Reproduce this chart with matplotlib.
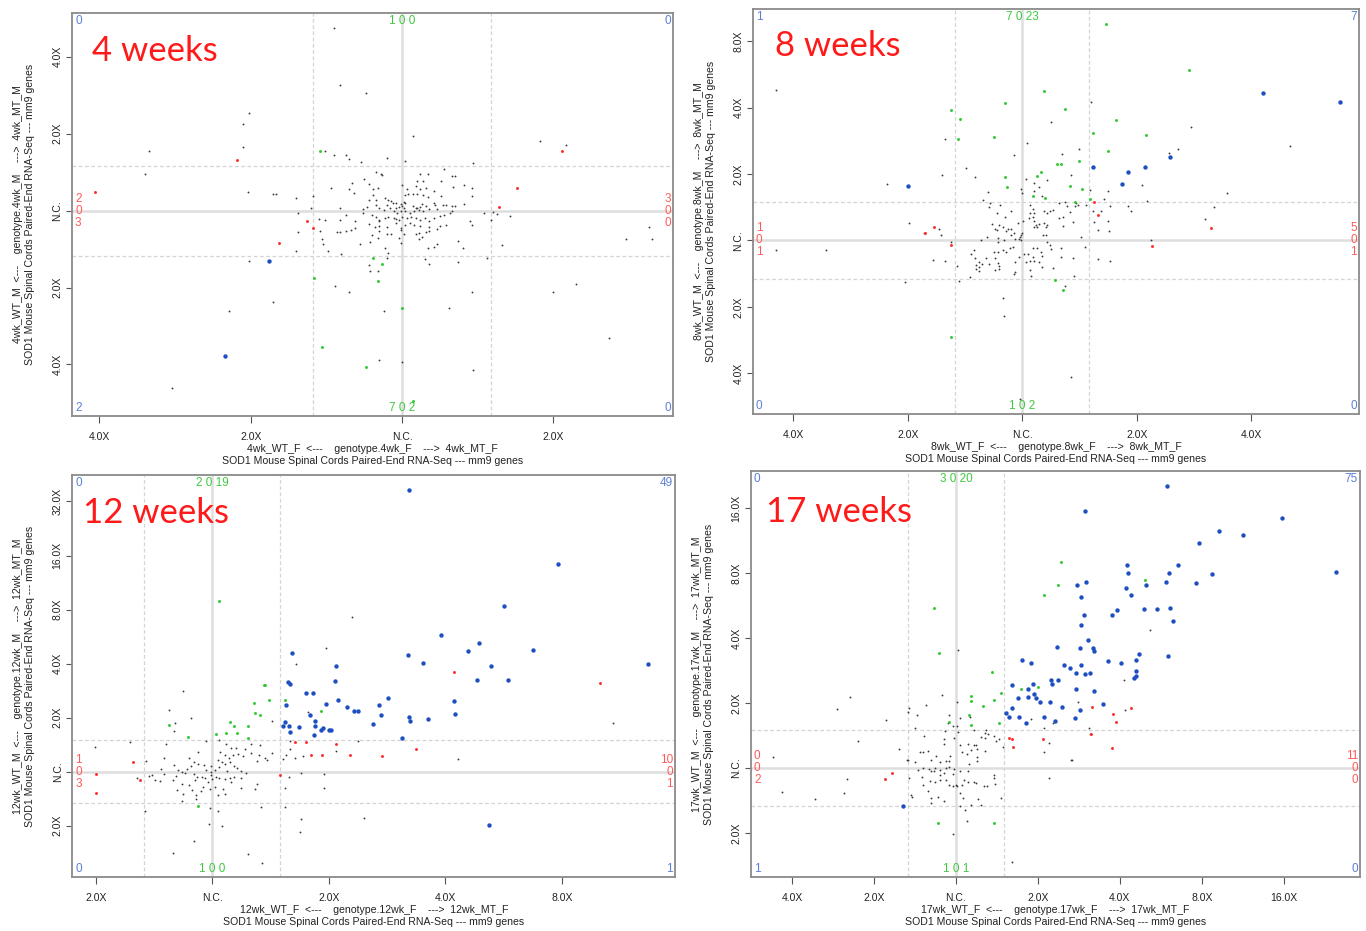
import matplotlib
matplotlib.use("Agg")
import matplotlib.pyplot as plt

plt.rcParams['font.family'] = ['Liberation Sans', 'DejaVu Sans']

# ---------------- DATA (log2 fold changes: x = female MT/WT, y = male MT/WT) ----------------
panel_titles = ["4 weeks", "8 weeks", "12 weeks", "17 weeks"]
prefixes = ["4wk", "8wk", "12wk", "17wk"]

# ---- 4 weeks ----
wk4_black = [
(-0.51,0.78),(-0.45,0.73),(-0.37,0.73),(-0.35,0.67),(-0.27,0.63),(-0.10,0.68),(0.02,0.64),(0.47,0.62),
(-0.17,0.50),(-0.14,0.48),(-0.13,0.46),(0.12,0.48),(0.17,0.48),(0.28,0.54),(0.33,0.45),(0.35,0.45),
(-0.25,0.41),(-0.33,0.36),(-0.22,0.35),(-0.47,0.29),(-0.35,0.28),(-0.32,0.23),(-0.19,0.28),(-0.16,0.29),
(0.10,0.39),(0.14,0.38),(0.09,0.32),(0.12,0.28),(0.16,0.30),(0.21,0.26),(0.26,0.39),(0.41,0.34),(0.34,0.31),(0.46,0.30),
(0.00,0.34),(0.03,0.28),(0.07,0.22),(0.04,0.22),(0.02,0.20),(0.10,0.22),(0.14,0.20),(0.17,0.18),(0.26,0.19),
(-0.19,0.21),(-0.22,0.14),(-0.17,0.14),(-0.11,0.16),(-0.09,0.14),(-0.07,0.12),(-0.06,0.10),(-0.04,0.10),(-0.01,0.09),(0.01,0.11),(0.02,0.10),
(-0.10,0.07),(-0.08,0.04),(-0.04,0.03),(-0.02,0.05),(0.00,0.06),(0.01,0.03),(0.07,0.06),(0.09,0.03),(0.10,0.03),(0.12,0.05),(0.13,0.09),(0.16,0.06),(0.21,0.10),(0.22,0.07),(0.27,0.08),(0.29,0.07),(0.33,-0.01),(0.33,0.06),(0.35,0.06),(0.41,0.09),(0.46,0.19),
(-0.26,0.02),(-0.23,0.05),(-0.17,0.07),(-0.15,0.03),(-0.12,0.01),(-0.05,-0.01),(-0.03,-0.03),(-0.01,0.00),(0.02,-0.01),(0.05,-0.03),(0.08,0.00),(0.11,0.01),(0.14,-0.01),(0.18,0.02),(0.23,0.02),
(-0.26,-0.03),(-0.20,-0.06),(-0.17,-0.08),(-0.15,-0.12),(-0.15,-0.14),(-0.11,-0.09),(-0.09,-0.08),(-0.05,-0.10),(-0.04,-0.11),(-0.02,-0.12),(0.00,-0.08),(0.03,-0.10),(0.06,-0.08),(0.09,-0.09),(0.12,-0.12),(0.15,-0.10),(0.18,-0.13),(0.21,-0.10),(0.25,-0.07),(0.28,-0.05),(0.32,-0.03),
(0.54,-0.03),(0.60,-0.02),(0.63,-0.04),(0.71,-0.07),(0.59,-0.12),(-0.69,-0.03),(-0.60,0.03),(-0.70,0.16),(-0.59,0.19),(-0.41,0.04),
(-0.69,-0.28),(-0.55,-0.11),(-0.51,-0.12),(-0.41,-0.12),(-0.37,-0.06),(-0.31,-0.13),(-0.54,-0.26),(-0.43,-0.28),(-0.41,-0.28),(-0.37,-0.26),(-0.34,-0.25),(-0.31,-0.23),
(-0.22,-0.17),(-0.18,-0.21),(-0.15,-0.20),(-0.10,-0.21),(-0.04,-0.16),(-0.01,-0.22),(0.02,-0.19),(0.05,-0.16),(0.08,-0.19),(0.12,-0.20),(0.18,-0.21),(0.25,-0.20),(0.29,-0.19),(0.45,-0.13),(0.46,-0.19),
(-0.15,-0.26),(-0.10,-0.30),(-0.01,-0.25),(0.01,-0.31),(-0.02,-0.35),(0.09,-0.30),(0.11,-0.29),(0.13,-0.34),(0.16,-0.28),(0.18,-0.26),(0.23,-0.24),(-0.20,-0.32),(-0.16,-0.35),(-0.07,-0.30),
(-0.53,-0.37),(-0.52,-0.44),(-0.49,-0.53),(-0.40,-0.56),(-0.28,-0.43),(-0.21,-0.41),(-0.11,-0.48),(-0.09,-0.55),(-0.01,-0.42),(0.11,-0.37),(0.17,-0.49),(0.21,-0.47),(0.23,-0.43),(0.37,-0.40),(0.40,-0.48),(0.66,-0.45),(0.56,-0.61),(-0.70,-0.53),
(0.15,-0.63),(0.18,-0.70),(0.37,-0.67),(-0.22,-0.71),(-0.21,-0.78),(-0.16,-0.78),(-0.10,-0.62),(-0.44,-0.98),(-0.35,-1.06),(0.46,-1.06),
(-0.45,2.37),(-0.41,1.64),(-0.24,1.53),(-1.01,1.27),(-1.05,1.13),(-1.05,0.83),(-1.67,0.77),(-1.70,0.48),(0.07,0.97),(0.91,0.90),(1.08,0.86),
(-1.02,0.24),(-0.85,0.22),(-0.83,0.22),(1.63,-0.21),(1.65,-0.37),(1.48,-0.37),(-1.01,-0.66),(-0.85,-1.19),(-1.14,-1.30),(-0.12,-1.31),(0.31,-1.26),
(1.00,-1.06),(1.15,-0.95),(1.37,-1.65),(-0.15,-1.94),(0.00,-1.97),(0.47,-2.07),(-1.52,-2.30)]
wk4_blue = [(-0.88,-0.66),(-1.17,-1.89)]
wk4_red = [(1.06,0.78),(-1.09,0.66),(-2.03,0.24),(-0.63,-0.14),(-0.59,-0.23),(0.64,0.05),(0.76,0.30),(-0.81,-0.42)]
wk4_green = [(-0.54,0.77),(-0.13,-0.70),(-0.19,-0.61),(-0.58,-0.87),(-0.16,-0.91),(-0.53,-1.77),(-0.24,-2.03),(0.00,-1.27),(0.07,-2.48)]

# ---- 8 weeks ----
wk8_black = [
(0.04,1.47),(0.50,1.37),(0.35,1.30),(-0.07,1.28),(-0.49,1.09),(-0.70,0.99),(-0.41,0.96),(0.43,0.98),(0.03,0.92),(0.10,0.87),(0.22,0.91),(0.15,0.81),
(-0.01,0.78),(0.00,0.71),(0.10,0.74),(0.17,0.67),(-0.30,0.73),(-0.34,0.61),(-0.28,0.57),(-0.29,0.51),(-0.19,0.54),(-0.10,0.45),(-0.15,0.35),(-0.22,0.41),
(-0.26,0.25),(-0.20,0.24),(-0.24,0.18),(-0.17,0.21),(-0.22,0.16),(-0.14,0.15),(-0.12,0.17),(-0.10,0.18),(-0.07,0.12),(-0.10,0.09),(-0.04,0.26),(0.01,0.30),
(0.06,0.34),(0.07,0.41),(0.09,0.36),(0.10,0.29),(0.12,0.23),(0.13,0.21),(0.15,0.25),(0.10,0.20),(0.19,0.27),(0.21,0.20),(0.22,0.23),(0.07,0.54),(0.09,0.47),
(0.10,0.42),(0.19,0.45),(0.22,0.41),(0.24,0.44),(0.27,0.46),(0.32,0.34),(0.36,0.35),(0.36,0.22),(0.32,0.57),(0.37,0.58),(0.39,0.52),(0.42,0.43),(0.46,0.52),
(0.47,0.57),(0.49,0.54),(0.44,0.28),(0.51,0.05),(0.18,0.09),(0.21,0.08),(0.22,-0.03),(0.24,-0.07),(0.09,-0.11),(0.13,-0.12),(0.34,-0.11),(0.25,-0.13),
(0.16,-0.17),(0.17,-0.24),(0.05,-0.20),(0.02,-0.20),(-0.03,-0.25),(-0.02,0.05),(-0.03,0.03),(-0.01,0.01),(-0.01,0.08),(-0.06,0.02),(0.00,0.12),(-0.08,-0.10),
(-0.11,-0.11),(-0.14,-0.17),(-0.17,-0.15),(-0.21,-0.18),(-0.25,-0.17),(-0.21,-0.02),(-0.21,0.04),(-0.16,0.01),(-0.36,0.01),(-0.31,0.05),(-0.42,-0.15),
(-0.45,-0.20),(-0.41,-0.27),(-0.38,-0.32),(-0.35,-0.35),(-0.40,-0.37),(-0.38,-0.40),(-0.40,-0.43),(-0.38,-0.46),(-0.29,-0.36),(-0.24,-0.26),(-0.21,-0.34),
(-0.20,-0.39),(-0.20,-0.43),(-0.24,-0.45),(-0.06,-0.32),(-0.06,-0.47),(-0.07,-0.50),(0.03,-0.32),(0.07,-0.31),(0.09,-0.25),(0.10,-0.31),(0.15,-0.32),
(0.17,-0.40),(0.07,-0.45),(0.08,-0.54),(0.27,-0.42),(0.34,-0.25),(0.44,-0.27),(0.55,-0.10),(0.66,-0.28),(0.77,-0.31),(0.63,0.28),(0.62,0.44),(0.69,0.45),
(0.75,0.29),(0.77,0.52),(0.71,0.62),(0.75,0.74),(0.59,0.76),(0.66,0.16),(0.76,0.14),(0.56,0.53),(0.45,-0.54),(0.37,-0.68),(-0.17,-0.87),(-0.16,-1.14),
(-0.46,-0.55),(-0.55,-0.61),(-0.57,-0.38),(-0.67,-0.31),(-0.78,-0.30),(-1.02,-0.62),(-0.99,0.26),(-0.86,0.11),(-0.73,0.17),(-0.71,0.09),(-0.62,-0.03),(-0.32,-0.27),
(-2.15,2.26),(-2.15,-0.14),(-1.71,-0.14),(-1.18,0.85),(-0.67,1.52),(0.43,-2.06),(-0.02,-2.39),(0.92,0.52),(1.05,0.84),(1.09,0.60),(0.95,0.45),(1.12,0.00),
(1.60,0.33),(1.67,0.51),(1.79,0.71),(1.47,1.71),(2.34,1.42),(1.28,1.32),(1.36,1.37),(0.60,2.09),(0.25,1.78)]
wk8_blue = [(-1.00,0.82),(0.62,1.11),(0.92,1.03),(0.87,0.85),(1.07,1.11),(1.29,1.25),(2.10,2.22),(2.77,2.08)]
wk8_red = [(-0.77,0.20),(-0.85,0.12),(-0.62,-0.07),(0.63,0.58),(0.66,0.38),(1.65,0.19),(1.13,-0.08)]
wk8_green = [(0.73,3.26),(1.46,2.57),(1.08,1.59),(0.82,1.81),(0.62,1.61),(0.75,1.34),(0.37,1.98),(0.19,2.25),(-0.15,2.07),(-0.62,1.97),
(-0.54,1.83),(-0.25,1.55),(-0.56,1.52),(0.30,1.15),(0.34,1.15),(-0.15,0.96),(-0.13,0.80),(0.16,1.03),(0.13,0.97),(0.09,0.67),(0.20,0.64),(0.42,0.82),
(0.50,1.20),(0.52,0.78),(0.46,0.58),(0.59,0.62),(0.29,-0.59),(0.36,-0.75),(-0.62,-1.45)]

# ---- 12 weeks ----
wk12_black = [
(-0.25,1.50),(-0.37,1.14),(-0.18,0.99),(-0.32,0.90),(-0.33,0.75),(-0.71,0.54),(-0.40,0.52),(-0.05,0.57),(-0.12,0.37),(0.06,0.58),(0.12,0.52),(0.16,0.44),
(0.20,0.44),(0.28,0.41),(0.33,0.52),(0.41,0.49),(0.40,0.30),(0.45,0.26),(0.47,0.21),(0.51,0.35),(0.38,0.19),(0.33,0.34),(0.26,0.29),(0.22,0.33),(0.18,0.30),
(0.14,0.26),(0.11,0.30),(0.07,0.36),(0.05,0.22),(0.08,0.18),(0.11,0.14),(0.15,0.17),(0.19,0.10),(0.21,0.06),(0.25,0.02),(0.29,-0.02),(0.13,0.02),(0.06,0.08),
(0.02,0.03),(-0.01,0.10),(-0.01,0.00),(-0.01,-0.06),(0.00,-0.13),(-0.05,0.03),(-0.07,0.12),(-0.12,0.15),(-0.16,0.18),(-0.20,0.26),(-0.18,0.10),(-0.22,0.04),
(-0.23,-0.03),(-0.26,0.00),(-0.29,0.03),(-0.33,0.12),(-0.31,-0.08),(-0.34,-0.15),(-0.41,-0.04),(-0.44,0.05),(-0.41,0.25),(-0.45,-0.18),(-0.49,-0.15),
(-0.52,-0.07),(-0.54,-0.08),(-0.57,0.20),(-0.65,-0.12),(-0.26,-0.23),(-0.20,-0.24),(-0.15,-0.15),(-0.16,-0.04),(-0.13,-0.09),(-0.09,-0.09),(-0.06,-0.12),
(-0.04,-0.19),(0.03,-0.09),(0.06,-0.12),(0.11,-0.13),(0.15,-0.12),(0.16,-0.19),(0.19,-0.09),(0.25,-0.12),(0.02,-0.28),(0.05,-0.43),(0.11,-0.42),(0.09,-0.32),
(-0.02,-0.32),(-0.08,-0.28),(-0.10,-0.35),(-0.14,-0.43),(-0.17,-0.34),(-0.14,-0.50),(-0.26,-0.54),(-0.25,-0.42),(-0.30,-0.34),(0.38,-0.23),(0.37,-0.32),
(0.25,-0.31),(0.42,-0.66),(0.62,-0.66),(0.66,-0.09),(0.61,0.23),(0.63,0.30),(0.67,0.41),(0.71,0.26),(0.78,0.29),(0.76,-0.02),(0.62,-0.30),(0.96,-0.04),
(0.96,-0.30),(1.06,0.38),(0.67,0.57),(0.51,0.93),(-0.02,-0.68),(0.05,-0.72),(0.08,-1.00),(-0.03,-0.96),(-0.58,-0.72),(0.76,-0.87),(0.75,-1.11),
(-1.01,0.46),(-0.16,-1.28),(-0.34,-1.51),(0.31,-1.53),(0.43,-1.69),(1.30,-0.85),(0.72,1.99),(0.98,2.28),(1.20,2.86),(2.11,0.24),(3.44,0.90),(1.25,0.57),(0.82,1.10)]
wk12_blue = [(1.69,5.21),(2.97,3.84),(2.50,3.06),(1.96,2.52),(2.29,2.38),(2.19,2.23),(2.75,2.25),(1.68,2.15),(1.81,2.01),(2.39,1.96),(3.74,1.99),(0.68,2.19),
(1.06,1.96),(1.05,1.68),(2.27,1.69),(2.54,1.69),(0.65,1.66),(0.67,1.62),(0.80,1.46),(0.86,1.46),(1.51,1.37),(1.08,1.32),(2.07,1.31),(0.63,1.23),(0.98,1.25),
(1.43,1.23),(1.16,1.20),(1.22,1.12),(1.25,1.12),(2.08,1.06),(0.84,1.04),(1.45,1.04),(1.69,1.01),(1.70,0.94),(1.85,0.97),(0.62,0.91),(0.88,0.93),(1.38,0.88),
(0.61,0.85),(0.66,0.85),(0.74,0.83),(0.88,0.85),(0.95,0.81),(0.93,0.77),(1.00,0.77),(1.02,0.77),(0.67,0.73),(0.87,0.67),(1.63,0.62),(2.37,-0.98)]
wk12_red = [(0.71,0.55),(0.80,0.55),(1.06,0.52),(0.85,0.30),(0.94,0.30),(1.18,0.31),(1.46,0.29),(1.75,0.42),(2.07,1.85),(3.33,1.64),(0.58,-0.06),
(-0.68,0.17),(-0.62,-0.16),(-1.00,-0.40),(-1.00,-0.04)]
wk12_green = [(0.06,3.16),(0.45,1.60),(0.36,1.27),(0.15,0.91),(0.21,0.71),(0.03,0.70),(0.12,0.71),(0.19,0.85),(0.31,0.85),(0.31,0.62),(0.37,1.09),
(0.41,1.05),(0.49,1.32),(0.62,1.32),(0.44,1.61),(-0.12,-0.64),(-0.37,0.86),(-0.21,0.64),(0.93,1.13)]

# ---- 17 weeks ----
wk17_black = [
(-0.85,0.74),(-0.57,0.93),(-0.37,0.97),(-0.17,1.13),(0.01,1.01),(-0.48,0.81),(-0.58,0.87),(-0.50,0.62),(-0.39,0.50),(-0.09,0.81),(-0.10,0.69),(-0.13,0.57),
(-0.04,0.64),(0.01,0.64),(0.03,0.55),(-0.02,0.46),(-0.14,0.45),(-0.15,0.37),(0.05,0.77),(0.17,0.78),(0.05,0.36),(0.15,0.37),(0.08,0.24),(0.13,0.21),(0.22,0.35),
(0.24,0.35),(0.26,0.29),(0.18,0.28),(0.35,0.27),(0.37,0.59),(0.35,0.54),(0.39,0.52),(0.47,0.49),(0.49,0.42),(0.52,0.45),(0.35,0.46),(0.30,0.48),(0.22,0.59),
(0.57,0.33),(0.26,0.17),(0.26,0.11),(0.16,0.06),(0.15,-0.04),(0.05,-0.04),(-0.02,-0.02),(-0.04,-0.09),(-0.08,0.02),(-0.12,0.11),(-0.09,0.11),(-0.07,0.19),
(-0.24,0.18),(-0.19,0.09),(-0.30,0.13),(-0.34,0.27),(-0.40,0.25),(-0.44,0.24),(-0.50,0.10),(-0.59,0.12),(-0.69,0.29),(-0.46,-0.03),(-0.40,0.00),(-0.33,-0.02),
(-0.31,-0.05),(-0.27,-0.04),(-0.25,0.00),(-0.19,-0.03),(-0.19,-0.10),(-0.15,-0.07),(-0.12,0.00),(-0.57,-0.16),(-0.41,-0.13),(-0.32,-0.20),(-0.26,-0.21),
(-0.20,-0.18),(-0.12,-0.18),(-0.09,-0.26),(-0.04,-0.27),(0.00,-0.26),(0.07,-0.26),(0.01,-0.28),(0.10,-0.19),(0.15,-0.21),(0.22,-0.21),(0.24,-0.23),(0.34,-0.28),
(0.38,-0.28),(0.47,-0.16),(0.47,-0.10),(0.48,-0.24),(-0.40,-0.26),(-0.34,-0.35),(-0.31,-0.46),(-0.55,-0.41),(-0.53,-0.44),(-0.22,-0.44),(-0.15,-0.51),
(-0.31,-0.54),(0.05,-0.38),(0.09,-0.46),(0.27,-0.47),(0.18,-0.57),(0.31,-0.57),(0.05,-0.58),(0.55,-0.46),(0.11,-0.65),(0.13,-0.82),(-0.03,-1.01),(1.14,-0.15),
(1.08,0.24),(1.08,0.61),(1.14,0.39),(1.41,0.13),(1.62,0.61),(1.64,0.52),(1.49,1.02),(1.19,0.70),(0.92,0.76),
(0.03,1.81),(-1.29,1.09),(-1.45,0.91),(-1.19,0.41),(-0.60,0.13),(-2.23,0.17),(-2.12,-0.37),(-1.72,-0.48),(-1.37,-0.38),(-1.33,-0.17),(0.68,-1.44),
(2.37,2.12),(2.05,1.36),(2.06,0.89),(1.42,0.13)]
wk17_blue = [(2.57,4.34),(1.58,3.95),(3.98,3.85),(3.21,3.65),(3.50,3.59),(2.97,3.46),(2.71,3.12),(2.09,3.12),(2.60,3.00),(2.10,3.00),(3.12,2.98),(4.64,3.01),
(2.56,2.86),(2.93,2.84),(1.48,2.82),(1.59,2.87),(2.32,2.82),(2.07,2.77),(2.14,2.67),(1.53,2.63),(2.30,2.44),(2.45,2.44),(2.61,2.46),(1.96,2.43),(1.90,2.35),
(2.65,2.26),(1.56,2.36),(1.53,2.20),(1.61,1.97),(1.23,1.87),(1.51,1.84),(1.67,1.84),(1.69,1.80),(2.23,1.76),(2.59,1.73),(0.81,1.66),(0.92,1.61),(1.86,1.64),
(2.02,1.62),(2.20,1.67),(1.32,1.58),(1.39,1.54),(1.53,1.58),(1.46,1.46),(1.57,1.44),(1.64,1.46),(2.20,1.50),(2.20,1.42),(2.17,1.39),(1.16,1.36),(1.24,1.36),
(1.17,1.29),(0.94,1.29),(0.68,1.28),(1.47,1.21),(0.88,1.21),(0.95,1.14),(0.76,1.08),(0.88,1.09),(0.98,1.08),(1.03,1.02),(1.15,1.02),(1.69,1.18),(1.80,0.99),
(1.30,0.94),(1.51,0.90),(0.69,0.92),(0.61,0.84),(0.65,0.79),(0.77,0.79),(1.08,0.78),(1.45,0.77),(0.86,0.70),(1.21,0.72),(-0.65,-0.59)]
wk17_red = [(1.66,0.94),(2.14,0.92),(1.92,0.83),(1.95,0.71),(0.65,0.47),(0.69,0.44),(0.70,0.32),(1.06,0.45),(1.65,0.52),(1.91,0.31),(-0.87,-0.17),(-0.78,-0.08)]
wk17_green = [(1.28,3.17),(1.25,2.81),(1.07,2.67),(-0.27,2.46),(-0.21,1.77),(0.44,1.48),(0.18,1.11),(0.47,1.04),(0.55,1.15),(0.19,1.03),(0.33,0.95),
(0.16,0.81),(0.19,0.66),(-0.09,0.71),(0.53,0.69),(-0.22,-0.85),(0.47,-0.85),(2.31,2.90),(0.79,1.21),(1.00,1.25)]

# ---- count annotations: (left, centre, right) ----
top_counts = [(1, 0, 0), (7, 0, 23), (2, 0, 19), (3, 0, 20)]
bottom_counts = [(7, 0, 2), (1, 0, 2), (1, 0, 0), (1, 0, 1)]
left_counts = [(2, 0, 3), (1, 0, 1), (1, 0, 3), (0, 0, 2)]      # (upper, middle, lower)
right_counts = [(3, 0, 0), (5, 0, 1), (10, 0, 1), (11, 0, 0)]
corner_counts = [(0, 0, 2, 0), (1, 7, 0, 0), (0, 49, 0, 1), (0, 75, 1, 0)]  # TL, TR, BL, BR

# ---- axes ticks / labels ----
xticks = [[-2, -1, 0, 1], [-2, -1, 0, 1, 2], [-1, 0, 1, 2, 3], [-2, -1, 0, 1, 2, 3, 4]]
xticklabels = [["4.0X", "2.0X", "N.C.", "2.0X"],
               ["4.0X", "2.0X", "N.C.", "2.0X", "4.0X"],
               ["2.0X", "N.C.", "2.0X", "4.0X", "8.0X"],
               ["4.0X", "2.0X", "N.C.", "2.0X", "4.0X", "8.0X", "16.0X"]]
yticks = [[-2, -1, 0, 1, 2], [-2, -1, 0, 1, 2, 3], [-1, 0, 1, 2, 3, 4, 5], [-1, 0, 1, 2, 3, 4]]
yticklabels = [["4.0X", "2.0X", "N.C.", "2.0X", "4.0X"],
               ["4.0X", "2.0X", "N.C.", "2.0X", "4.0X", "8.0X"],
               ["2.0X", "N.C.", "2.0X", "4.0X", "8.0X", "16.0X", "32.0X"],
               ["2.0X", "N.C.", "2.0X", "4.0X", "8.0X", "16.0X"]]
xlims = [(-2.18, 1.79), (-2.35, 2.94), (-1.20, 3.97), (-2.50, 4.93)]
ylims = [(-2.67, 2.57), (-2.61, 3.49), (-1.95, 5.49), (-1.68, 4.57)]
threshold = 0.585   # log2(1.5)
subtitle = "SOD1 Mouse Spinal Cords Paired-End RNA-Seq --- mm9 genes"

blacks = [wk4_black, wk8_black, wk12_black, wk17_black]
blues = [wk4_blue, wk8_blue, wk12_blue, wk17_blue]
reds = [wk4_red, wk8_red, wk12_red, wk17_red]
greens = [wk4_green, wk8_green, wk12_green, wk17_green]

# ---------------- STYLE / LAYOUT ----------------
W, H = 1366, 931
rects_px = [(72, 13, 673, 416), (753, 8.5, 1359, 414), (72.4, 475, 675, 877), (751, 471, 1360, 877.3)]
title_off_px = [(20, 22), (22, 22), (11, 22), (15, 25)]

C_BLUE_TXT = '#5a7fd6'
C_RED_TXT = '#ff5a5a'
C_GREEN_TXT = '#40c840'

fig = plt.figure(figsize=(W / 100, H / 100), dpi=100)

def xy(pts):
    return [p[0] for p in pts], [p[1] for p in pts]

for i in range(4):
    x0, y0, x1, y1 = rects_px[i]
    ax = fig.add_axes([x0 / W, 1 - y1 / H, (x1 - x0) / W, (y1 - y0) / H])
    ax.set_xlim(*xlims[i])
    ax.set_ylim(*ylims[i])

    # reference lines
    ax.axhline(0, color='#dedede', lw=1.8, zorder=1)
    ax.axvline(0, color='#dedede', lw=1.8, zorder=1)
    for t in (-threshold, threshold):
        ax.axhline(t, color='#d4d4d4', lw=0.9, ls=(0, (3, 2)), zorder=1)
        ax.axvline(t, color='#d4d4d4', lw=0.9, ls=(0, (3, 2)), zorder=1)

    bx, by = xy(blacks[i])
    ax.scatter(bx, by, s=1.8, c='#3a3a3a', linewidths=0, zorder=3)
    gx, gy = xy(greens[i])
    ax.scatter(gx, gy, s=4.5, c='#2fc92f', linewidths=0, zorder=4)
    rx, ry = xy(reds[i])
    ax.scatter(rx, ry, s=4.5, c='#ff2b2b', linewidths=0, zorder=4)
    ux, uy = xy(blues[i])
    ax.scatter(ux, uy, s=10, c='#1d4fc2', linewidths=0, zorder=5)

    # spines / ticks
    for sp in ax.spines.values():
        sp.set_color('#8a8a8a')
        sp.set_linewidth(1.3)
    ax.set_xticks(xticks[i])
    ax.set_xticklabels(xticklabels[i])
    ax.set_yticks(yticks[i])
    ax.set_yticklabels(yticklabels[i], rotation=90, va='center')
    ax.tick_params(axis='x', length=4.8, width=0.8, color='#555555', pad=6.5,
                   labelsize=7.5, labelcolor='#222222')
    ax.tick_params(axis='y', length=4.0, width=0.8, color='#555555', pad=3,
                   labelsize=7.5, labelcolor='#222222')

    p = prefixes[i]
    fs = 7.6
    ax.annotate(f"{p}_WT_F  <---    genotype.{p}_F    --->  {p}_MT_F", xy=(0.5, 0), xycoords='axes fraction',
                xytext=(0, -33), textcoords='offset pixels', ha='center', va='center', fontsize=fs, color='#222222')
    ax.annotate(subtitle, xy=(0.5, 0), xycoords='axes fraction',
                xytext=(0, -45), textcoords='offset pixels', ha='center', va='center', fontsize=fs, color='#222222')
    ax.annotate(f"{p}_WT_M  <---    genotype.{p}_M    --->  {p}_MT_M", xy=(0, 0.5), xycoords='axes fraction',
                xytext=(-54, 0), textcoords='offset pixels', ha='center', va='center', rotation=90,
                fontsize=fs, color='#222222')
    ax.annotate(subtitle, xy=(0, 0.5), xycoords='axes fraction',
                xytext=(-42, 0), textcoords='offset pixels', ha='center', va='center', rotation=90,
                fontsize=fs, color='#222222')

    # counts
    nfs = 8.5
    tl, tr, bl, br = corner_counts[i]
    ax.annotate(str(tl), xy=(0, 1), xycoords='axes fraction', xytext=(3, -8), textcoords='offset pixels',
                ha='left', va='center', fontsize=nfs, color=C_BLUE_TXT)
    ax.annotate(str(tr), xy=(1, 1), xycoords='axes fraction', xytext=(-2, -8), textcoords='offset pixels',
                ha='right', va='center', fontsize=nfs, color=C_BLUE_TXT)
    ax.annotate(str(bl), xy=(0, 0), xycoords='axes fraction', xytext=(3, 8), textcoords='offset pixels',
                ha='left', va='center', fontsize=nfs, color=C_BLUE_TXT)
    ax.annotate(str(br), xy=(1, 0), xycoords='axes fraction', xytext=(-2, 8), textcoords='offset pixels',
                ha='right', va='center', fontsize=nfs, color=C_BLUE_TXT)

    tr_x = ax.get_xaxis_transform()   # x data, y axes
    for cnt, yax, dy in ((top_counts[i], 1, -8), (bottom_counts[i], 0, 8)):
        l, c, r = cnt
        ax.annotate(f"{l} {c} {r}", xy=(0, yax), xycoords=tr_x, xytext=(0, dy), textcoords='offset pixels',
                    ha='center', va='center', fontsize=nfs, color=C_GREEN_TXT)

    tr_y = ax.get_yaxis_transform()   # x axes, y data
    for cnt, xax, dx, ha in ((left_counts[i], 0, 3, 'left'), (right_counts[i], 1, -2, 'right')):
        u, m, lo = cnt
        for val, dy in ((u, 12), (m, 0), (lo, -12)):
            ax.annotate(str(val), xy=(xax, 0), xycoords=tr_y, xytext=(dx, dy), textcoords='offset pixels',
                        ha=ha, va='center', fontsize=nfs, color=C_RED_TXT)

    # panel title
    ox, oy = title_off_px[i]
    ax.annotate(panel_titles[i], xy=(0, 1), xycoords='axes fraction', xytext=(ox, -oy),
                textcoords='offset pixels', ha='left', va='top', fontsize=25, color='#ff1a1a',
                family=['Lato', 'DejaVu Sans'])

fig.savefig("out.png", dpi=100)
